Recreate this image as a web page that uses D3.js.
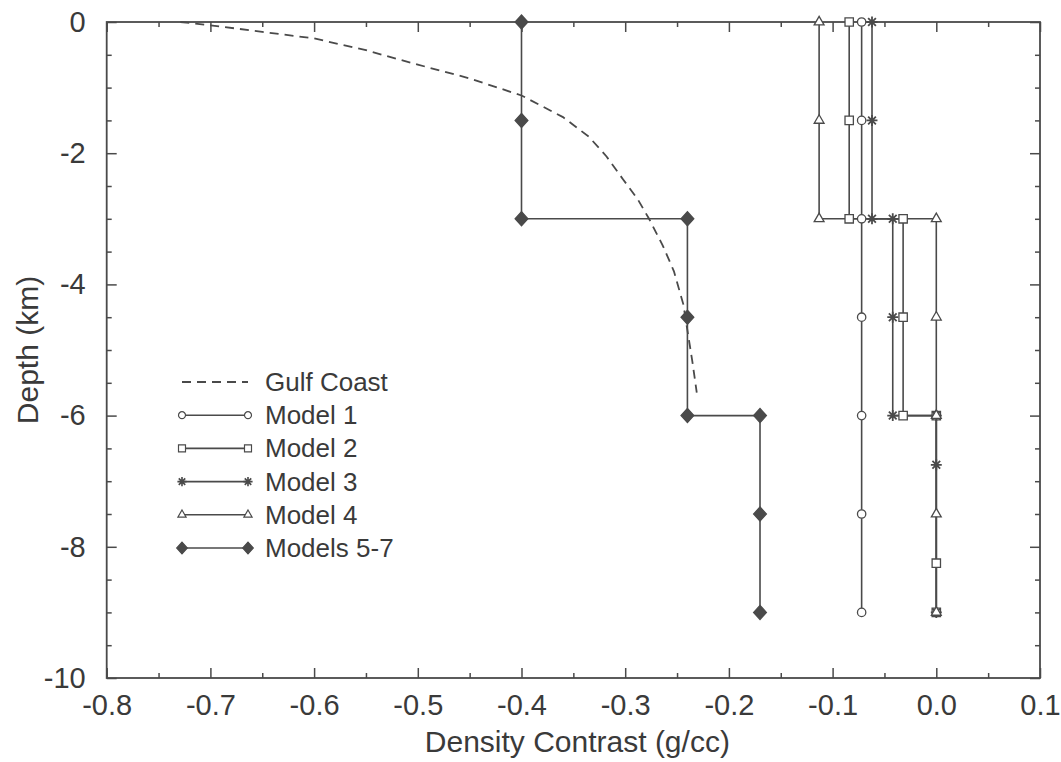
<!DOCTYPE html>
<html lang="en">
<head>
<meta charset="UTF-8">
<title>Density Contrast vs Depth</title>
<script src="https://cdnjs.cloudflare.com/ajax/libs/d3/7.8.5/d3.min.js"></script>
<style>
    body { margin: 0; background: #fff; }
    svg { display: block; font-family: "Liberation Sans", Arial, Helvetica, sans-serif; }
    .tick text { fill: #3a3a3a; font-size: 29px; }
    .axis-title { fill: #3a3a3a; font-size: 30px; }
    .legend text { fill: #3a3a3a; font-size: 26px; }
</style>
</head>
<body>
<div id="chart"></div>
<script>
    // tick values
    const xTicks = [-0.8, -0.7, -0.6, -0.5, -0.4, -0.3, -0.2, -0.1, 0.0, 0.1];
    const xMinorTicks = [-0.75, -0.65, -0.55, -0.45, -0.35, -0.25, -0.15, -0.05, 0.05];
    const yTicks = [0, -2, -4, -6, -8, -10];
    const yMinorTicks = [-0.5, -1, -1.5, -2.5, -3, -3.5, -4.5, -5, -5.5,
        -6.5, -7, -7.5, -8.5, -9, -9.5];

    // [density contrast, depth]
    const gulfCoast = [[-0.729, 0], [-0.70, -0.05], [-0.65, -0.15], [-0.60, -0.25], [-0.55, -0.43],
        [-0.50, -0.65], [-0.45, -0.86], [-0.40, -1.12], [-0.36, -1.45], [-0.335, -1.75],
        [-0.318, -2.05], [-0.302, -2.4], [-0.288, -2.7], [-0.277, -3.0], [-0.264, -3.4],
        [-0.253, -3.8], [-0.244, -4.3], [-0.239, -4.8], [-0.235, -5.2], [-0.231, -5.65]];
    const model1 = [[-0.072, 0], [-0.072, -1.5], [-0.072, -3], [-0.072, -4.5], [-0.072, -6],
        [-0.072, -7.5], [-0.072, -9]];
    const model2 = [[-0.084, 0], [-0.084, -1.5], [-0.084, -3], [-0.032, -3], [-0.032, -4.5],
        [-0.032, -6], [0, -6], [0, -8.25], [0, -9]];
    const model3 = [[-0.062, 0], [-0.062, -1.5], [-0.062, -3], [-0.042, -3], [-0.042, -4.5],
        [-0.042, -6], [0, -6], [0, -6.75], [0, -9]];
    const model4 = [[-0.113, 0], [-0.113, -1.5], [-0.113, -3], [0, -3], [0, -4.5], [0, -6],
        [0, -7.5], [0, -9]];
    const models57 = [[-0.40, 0], [-0.40, -1.5], [-0.40, -3], [-0.24, -3], [-0.24, -4.5],
        [-0.24, -6], [-0.17, -6], [-0.17, -7.5], [-0.17, -9]];

    const ink = "#4a4a4a";
    const W = 1061, H = 762;
    const plot = {left: 106.7, right: 1040, top: 22, bottom: 678};

    const svg = d3.select("#chart").append("svg")
        .attr("width", W)
        .attr("height", H);

    const x = d3.scaleLinear().domain([-0.8, 0.1]).range([plot.left, plot.right]);
    const y = d3.scaleLinear().domain([-10, 0]).range([plot.bottom, plot.top]);

    // asterisk: 4 strokes through the centre
    const asterisk = {
        draw(ctx, size) {
            const r = Math.sqrt(size) / 2;
            const d = r * Math.SQRT1_2;
            ctx.moveTo(-r, 0); ctx.lineTo(r, 0);
            ctx.moveTo(0, -r); ctx.lineTo(0, r);
            ctx.moveTo(-d, -d); ctx.lineTo(d, d);
            ctx.moveTo(-d, d); ctx.lineTo(d, -d);
        }
    };
    const diamond = {
        draw(ctx, size) {
            const r = Math.sqrt(size) / 2;
            ctx.moveTo(0, -r * 1.05); ctx.lineTo(r * 0.95, 0);
            ctx.lineTo(0, r * 1.05); ctx.lineTo(-r * 0.95, 0);
            ctx.closePath();
        }
    };

    const series = [
        {name: "Gulf Coast", data: gulfCoast, dash: "9,6", symbol: null},
        {name: "Model 1", data: model1, symbol: d3.symbolCircle, size: 55, fill: "#fff", sw: 1.3},
        {name: "Model 2", data: model2, symbol: d3.symbolSquare, size: 70, fill: "#fff", sw: 1.3},
        {name: "Model 3", data: model3, symbol: asterisk, size: 120, fill: "none", sw: 1.8},
        {name: "Model 4", data: model4, symbol: d3.symbolTriangle, size: 42, fill: "#fff", sw: 1.3},
        {name: "Models 5-7", data: models57, symbol: diamond, size: 180, fill: ink, sw: 1.3}
    ];

    // axes: ticks point inward on all four sides
    function frameAxis(axis, transform, ticks, len, fmt, pad) {
        const g = svg.append("g").attr("transform", transform)
            .call(axis.tickValues(ticks).tickSize(-len).tickPadding(pad || 3).tickFormat(fmt || ""));
        g.select(".domain").remove();
        g.selectAll(".tick text").attr("fill", null);
        return g;
    }

    frameAxis(d3.axisBottom(x), `translate(0,${plot.bottom})`, xTicks, 10, d => d.toFixed(1), 16);
    frameAxis(d3.axisBottom(x), `translate(0,${plot.bottom})`, xMinorTicks, 5);
    frameAxis(d3.axisTop(x), `translate(0,${plot.top})`, xTicks, 10);
    frameAxis(d3.axisTop(x), `translate(0,${plot.top})`, xMinorTicks, 5);
    frameAxis(d3.axisLeft(y), `translate(${plot.left},0)`, yTicks, 10, d => String(d), 21);
    frameAxis(d3.axisLeft(y), `translate(${plot.left},0)`, yMinorTicks, 5);
    frameAxis(d3.axisRight(y), `translate(${plot.right},0)`, yTicks, 10);
    frameAxis(d3.axisRight(y), `translate(${plot.right},0)`, yMinorTicks, 5);

    svg.selectAll(".tick line").attr("stroke", ink).attr("stroke-width", 1.5);

    // frame
    svg.append("rect")
        .attr("x", plot.left).attr("y", plot.top)
        .attr("width", plot.right - plot.left).attr("height", plot.bottom - plot.top)
        .attr("fill", "none").attr("stroke", ink).attr("stroke-width", 1.8);

    // axis titles
    svg.append("text").attr("class", "axis-title")
        .attr("x", (plot.left + plot.right) / 2 + 4).attr("y", 752)
        .attr("text-anchor", "middle")
        .text("Density Contrast (g/cc)");
    svg.append("text").attr("class", "axis-title")
        .attr("transform", `translate(38,${(plot.top + plot.bottom) / 2}) rotate(-90)`)
        .attr("text-anchor", "middle")
        .text("Depth (km)");

    const line = d3.line().x(d => x(d[0])).y(d => y(d[1]));

    series.forEach(s => {
        svg.append("path")
            .datum(s.data)
            .attr("d", line)
            .attr("fill", "none")
            .attr("stroke", ink)
            .attr("stroke-width", s.symbol ? 1.6 : 1.8)
            .attr("stroke-dasharray", s.dash || null);
    });

    series.filter(s => s.symbol).forEach(s => {
        svg.append("g").selectAll("path")
            .data(s.data)
            .join("path")
            .attr("transform", d => `translate(${x(d[0])},${y(d[1])})`)
            .attr("d", d3.symbol(s.symbol, s.size))
            .attr("fill", s.fill)
            .attr("stroke", ink)
            .attr("stroke-width", s.sw);
    });

    // legend
    const legend = svg.append("g").attr("class", "legend")
        .attr("transform", "translate(182,382)");
    series.forEach((s, i) => {
        const row = legend.append("g").attr("transform", `translate(0,${i * 33.2})`);
        row.append("line")
            .attr("x1", 0).attr("x2", 66)
            .attr("stroke", ink)
            .attr("stroke-width", s.symbol ? 1.6 : 1.8)
            .attr("stroke-dasharray", s.dash || null);
        if (s.symbol) {
            row.selectAll("path").data([0, 66]).join("path")
                .attr("transform", d => `translate(${d},0)`)
                .attr("d", d3.symbol(s.symbol, s.size * 0.7))
                .attr("fill", s.fill)
                .attr("stroke", ink)
                .attr("stroke-width", s.sw * 0.9);
        }
        row.append("text")
            .attr("x", 83).attr("y", 9)
            .text(s.name);
    });
</script>
</body>
</html>
